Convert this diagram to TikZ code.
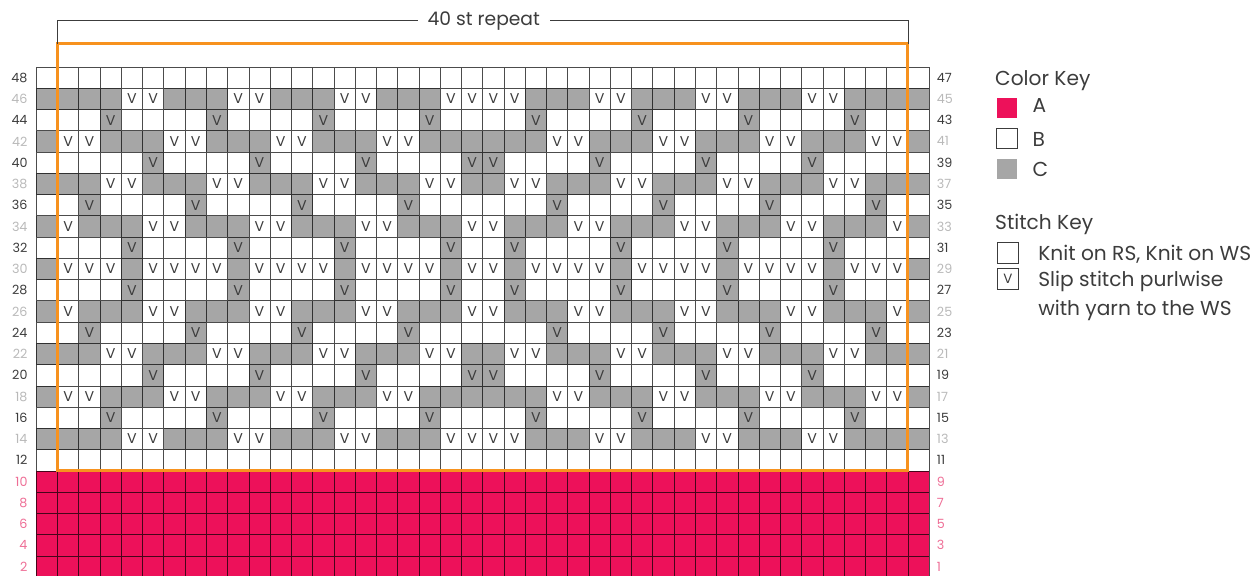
\documentclass[tikz,border=0pt]{standalone}
\usepackage{fontspec}
\setmainfont{Poppins}
\definecolor{colA}{RGB}{237,17,90}
\definecolor{colC}{RGB}{166,166,166}
\definecolor{repOrange}{RGB}{247,146,30}
\definecolor{labDark}{RGB}{60,60,60}
\definecolor{labGray}{RGB}{185,185,185}
\definecolor{labPink}{RGB}{238,110,150}
\tikzset{
  slip/.style={text=labDark, font=\fontsize{9.5}{10}\selectfont, inner sep=0pt},
  rownum/.style={font=\fontsize{8.5}{9}\selectfont, inner sep=0pt},
  keybox/.style={minimum size=4.8mm, inner sep=0pt},
  keytext/.style={anchor=base west, inner sep=0pt, text=labDark, font=\fontsize{13.5}{15}\selectfont},
}

\begin{document}
\begin{tikzpicture}[x=5mm, y=5mm]\small
\useasboundingbox (-1.707,-23.94) rectangle (57.56,3.151);
% rows from the top; \code = bits of the slipped columns mod 5, left half (right half mirrored)
\foreach \r/\code in {0/0,1/17,2/8,3/6,4/1,5/24,6/4,7/3,8/16,9/15,10/16,11/3,12/4,13/24,14/1,15/6,16/8,17/17,18/0}{
  \pgfmathtruncatemacro{\isgray}{mod(\r,2)}
  \ifnum\isgray=1 \fill[colC] (0,-\r) rectangle (42,-\r-1);\fi
  \foreach \c in {1,...,40}{
    \pgfmathtruncatemacro{\mc}{\c<21 ? \c : 41-\c}
    \pgfmathtruncatemacro{\slipbit}{mod(floor(\code/2^mod(\mc,5)),2)}
    \ifnum\slipbit=1
      \ifnum\isgray=1 \fill[white] (\c,-\r) rectangle ++(1,-1);
      \else \fill[colC] (\c,-\r) rectangle ++(1,-1);\fi
      \node[slip] (v-\r-\c) at (\c+.5,-\r-.5) {V};
    \fi
  }
}
\fill[colA] (0,-19) rectangle (42,-24);
\draw[black, draw opacity=.7, line width=.5pt, step=5mm] (0,0) grid (42,-24);
% row numbers
\foreach \r in {0,...,23}{
  \pgfmathtruncatemacro{\lnum}{48-2*\r}
  \pgfmathtruncatemacro{\rnum}{47-2*\r}
  \ifnum\r>18 \def\labcol{labPink}\else\ifodd\r \def\labcol{labGray}\else\def\labcol{labDark}\fi\fi
  \node[rownum, text=\labcol, anchor=east] (l\r) at (-.4,-\r-.5) {\lnum};
  \node[rownum, text=\labcol, anchor=west] (r\r) at (42.35,-\r-.5) {\rnum};
}
% repeat
\draw[repOrange, line width=2pt] (1,-19) rectangle (41,1.1);
\coordinate (repL) at (1,1.1);
\coordinate (repR) at (41,1.1);
\node[font=\fontsize{12.5}{14}\selectfont, text=labDark, fill=white, inner xsep=6.5pt, inner ysep=1pt] (rep) at (21.05,2.18) {40 st repeat};
\draw[labDark, line width=.6pt] (repL) |- (rep.west) (repR) |- (rep.east);
% keys
\node[keytext] (ckey) at (45.09,-.85) {Color Key};
\node[keybox, fill=colA] (bA) at (45.65,-1.92) {};
\node[keytext] (tA) at (46.85,-2.16) {A};
\node[keybox, draw=labDark, line width=.6pt] (bB) at (45.65,-3.36) {};
\node[keytext] (tB) at (46.85,-3.72) {B};
\node[keybox, fill=colC] (bC) at (45.65,-4.8) {};
\node[keytext] (tC) at (46.85,-5.16) {C};
\node[keytext] (skey) at (45.09,-7.63) {Stitch Key};
\node[keybox, draw=labDark, line width=.6pt] (bK) at (45.7,-8.75) {};
\node[keytext] (tK) at (47.12,-9.08) {Knit on RS, Knit on WS};
\node[keybox, draw=labDark, line width=.6pt, font=\fontsize{9}{9}\selectfont, text=labDark] (bV) at (45.7,-9.97) {V};
\node[keytext] (tV1) at (47.12,-10.33) {Slip stitch purlwise};
\node[keytext] (tV2) at (47.12,-11.71) {with yarn to the WS};
\end{tikzpicture}
\end{document}
